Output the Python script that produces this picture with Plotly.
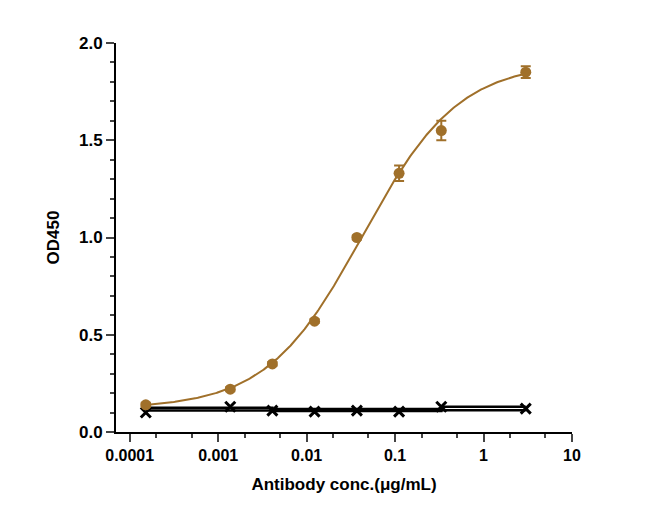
import numpy as np
import plotly.graph_objects as go

conc = [0.000152, 0.00137, 0.0041, 0.0123, 0.037, 0.111, 0.333, 3.0]
pos = [0.14, 0.22, 0.35, 0.57, 1.00, 1.33, 1.55, 1.85]
pos_err = [0.01, 0.01, 0.01, 0.01, 0.01, 0.04, 0.05, 0.03]
neg = [0.10, 0.13, 0.11, 0.105, 0.11, 0.105, 0.13, 0.12]
neg_upper = [0.125, 0.125, 0.118, 0.118, 0.118, 0.118, 0.13, 0.13]
neg_lower = [0.11, 0.11, 0.108, 0.108, 0.108, 0.108, 0.112, 0.112]
fit = dict(bottom=0.12, top=1.90, ec50=0.043, hill=0.8)

brown = "#A0702A"
xs = np.logspace(np.log10(conc[0]), np.log10(conc[-1]), 300)
ys = fit["bottom"] + (fit["top"] - fit["bottom"]) / (1 + (fit["ec50"] / xs) ** fit["hill"])

fig = go.Figure()
fig.add_trace(go.Scatter(x=conc, y=neg_upper, mode="lines", line=dict(color="black", width=2.5, shape="hv")))
fig.add_trace(go.Scatter(x=conc, y=neg_lower, mode="lines", line=dict(color="black", width=2.5, shape="hv")))
fig.add_trace(go.Scatter(x=conc, y=neg, mode="markers",
                         marker=dict(symbol="x-thin", size=10, line=dict(color="black", width=3))))
fig.add_trace(go.Scatter(x=xs, y=ys, mode="lines", line=dict(color=brown, width=2)))
fig.add_trace(go.Scatter(x=conc, y=pos, mode="markers",
                         error_y=dict(type="data", array=pos_err, color=brown, thickness=2, width=5),
                         marker=dict(color=brown, size=11)))

xticks = [0.0001, 0.001, 0.01, 0.1, 1, 10]
xticklabels = ["0.0001", "0.001", "0.01", "0.1", "1", "10"]
yticks = [0, 0.5, 1.0, 1.5, 2.0]
yticklabels = ["0.0", "0.5", "1.0", "1.5", "2.0"]
fig.update_layout(
    width=650, height=527, showlegend=False, plot_bgcolor="white", paper_bgcolor="white",
    margin=dict(l=108, r=86, t=35, b=103),
    font=dict(family="Arial, Liberation Sans", size=16, color="black"),
    xaxis=dict(type="log", range=[np.log10(0.00007), 1], tickvals=xticks,
               ticktext=[f"<b>{t}</b>" for t in xticklabels],
               showline=True, linecolor="black", linewidth=2, ticks="outside", ticklen=8, tickwidth=2,
               minor=dict(ticks="outside", ticklen=4, tickwidth=2, showgrid=False),
               showgrid=False, zeroline=False,
               title=dict(text="<b>Antibody conc.(μg/mL)</b>", font=dict(size=17))),
    yaxis=dict(range=[0, 2.0], tickvals=yticks, ticktext=[f"<b>{t}</b>" for t in yticklabels],
               showline=True, linecolor="black", linewidth=2, ticks="outside", ticklen=8, tickwidth=2,
               minor=dict(ticks="outside", ticklen=4, tickwidth=2, dtick=0.1),
               showgrid=False, zeroline=False,
               title=dict(text="<b>OD450</b>", font=dict(size=17))),
)
fig.update_xaxes(tickfont=dict(size=16))
fig.update_yaxes(tickfont=dict(size=17))
fig.write_html("out.html")
